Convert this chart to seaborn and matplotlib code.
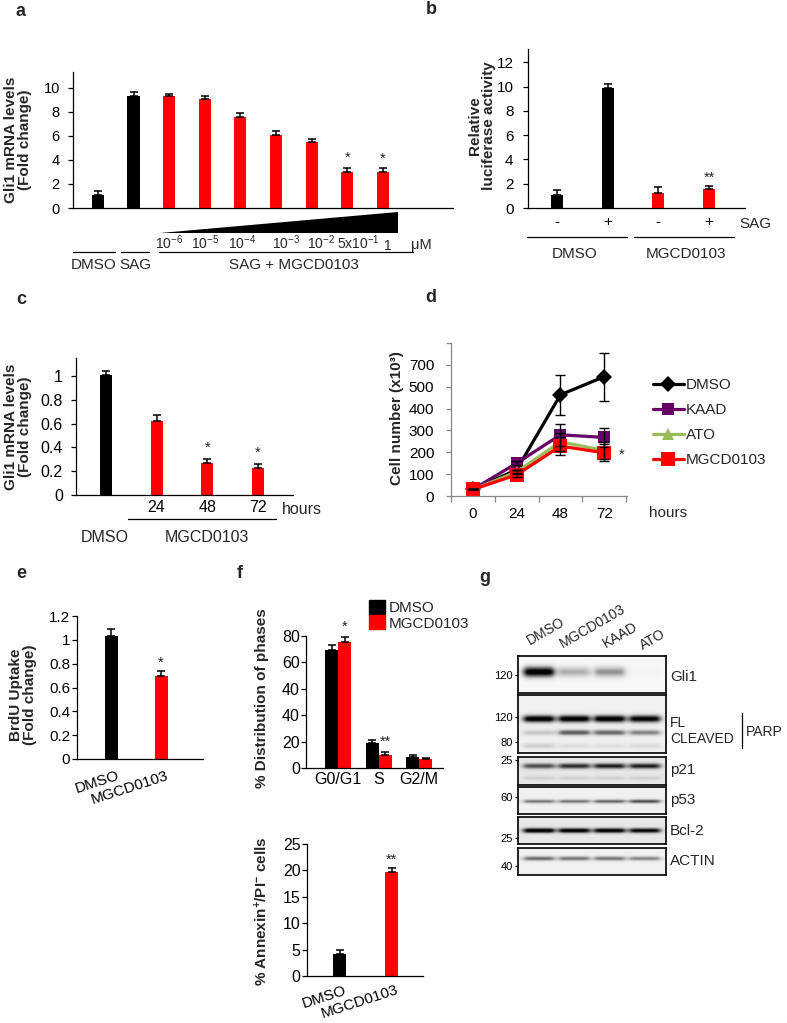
"""
plot.py - MGCD0103 multi-panel figure (bar charts, growth curve, western blot)
"""
import numpy as np, pandas as pd
import matplotlib; matplotlib.use("Agg")
import matplotlib.pyplot as plt
import seaborn as sns
from matplotlib.lines import Line2D
from matplotlib.patches import Patch, Polygon
from matplotlib.transforms import ScaledTranslation

sns.set_style("ticks")
plt.rcParams.update({"font.family": ["Liberation Sans", "DejaVu Sans"],
                     "mathtext.fontset": "custom", "mathtext.rm": "Liberation Sans",
                     "mathtext.it": "Liberation Sans:italic", "mathtext.bf": "Liberation Sans:bold",
                     "axes.linewidth": 0.9, "axes.edgecolor": "black",
                     "xtick.color": "black", "ytick.color": "black"})

W, H = 787, 1023
RED, BLK, GRAY = "#FF0000", "#000000", "#868686"

# ---------------- data ----------------
# a: Gli1 mRNA, SAG + MGCD0103 dose response
a_cats  = ["DMSO", "SAG", "1e-6", "1e-5", "1e-4", "1e-3", "1e-2", "5e-1", "1"]
a_vals  = [1.1, 9.3, 9.3, 9.1, 7.6, 6.1, 5.5, 3.0, 3.0]
a_err   = [0.3, 0.35, 0.2, 0.25, 0.3, 0.3, 0.25, 0.35, 0.3]
a_stars = ["", "", "", "", "", "", "", "*", "*"]
a_doses = ["10$^{-6}$", "10$^{-5}$", "10$^{-4}$", "10$^{-3}$", "10$^{-2}$", "5x10$^{-1}$", "1"]

# b: luciferase
b_cats  = ["DMSO-", "DMSO+", "MGCD-", "MGCD+"]
b_ticks = ["-", "+", "-", "+"]
b_vals  = [1.1, 9.85, 1.2, 1.55]
b_err   = [0.35, 0.35, 0.5, 0.3]
b_stars = ["", "", "", "**"]

# c: Gli1 mRNA time course
c_cats  = ["DMSO", "24", "48", "72"]
c_ticks = ["", "24", "48", "72"]
c_vals  = [1.01, 0.62, 0.27, 0.225]
c_err   = [0.035, 0.05, 0.03, 0.035]
c_stars = ["", "", "*", "*"]

# d: cell number (x10^3)
d_hours = ["0", "24", "48", "72"]
d_names = ["DMSO", "KAAD", "ATO", "MGCD0103"]
d_dmso  = [30, 120, 463, 546]
d_kaad  = [30, 150, 280, 268]
d_ato   = [30, 110, 248, 208]
d_mgcd  = [30, 97, 228, 198]
d_dmso_err = [0, 0, 92, 110]
d_kaad_err = [0, 10, 50, 45]
d_ato_err  = [0, 10, 40, 40]
d_mgcd_err = [0, 10, 40, 40]
d_yticklabels = ["0", "100", "200", "300", "400", "500", "700", ""]

# e: BrdU
e_cats  = ["DMSO", "MGCD0103"]
e_vals  = [1.03, 0.70]
e_err   = [0.06, 0.035]

# f: cell cycle + apoptosis
f_phases = ["G0/G1", "S", "G2/M"]
f_dmso   = [71.5, 15.3, 6.7]
f_mgcd   = [76.4, 8.0, 5.5]
f_dmso_err = [3.0, 1.5, 1.0]
f_mgcd_err = [3.0, 2.0, 0.8]
f_yticklabels = ["0", "20", "40", "40", "60", "80"]
f_ann_vals = [4.2, 19.7]
f_ann_err  = [0.7, 0.7]

# g: western blot band intensities (lanes: DMSO, MGCD0103, KAAD, ATO)
g_lanes   = ["DMSO", "MGCD0103", "KAAD", "ATO"]
g_gli1    = [1.0, 0.35, 0.45, 0.03]
g_parp_fl = [0.95, 0.95, 0.95, 0.92]
g_parp_cl = [0.22, 0.6, 0.55, 0.45]
g_parp_lo = [0.18, 0.1, 0.1, 0.12]
g_p21     = [0.6, 0.7, 0.75, 0.75]
g_p21_lo  = [0.12, 0.12, 0.12, 0.12]
g_p53     = [0.5, 0.5, 0.55, 0.65]
g_bcl2    = [0.95, 0.9, 0.9, 0.85]
g_actin   = [0.55, 0.5, 0.5, 0.45]

fig = plt.figure(figsize=(W / 100, H / 100), dpi=100)

def add_ax(l, t, r, b):
    ax = fig.add_axes([l / W, 1 - b / H, (r - l) / W, (b - t) / H])
    ax.patch.set_alpha(0)
    return ax

def style(ax, ticks, labels=None, size=10, pad=3, color=BLK):
    sns.despine(ax=ax)
    ax.set_yticks(ticks)
    ax.set_yticklabels(labels if labels is not None else [f"{t:g}" for t in ticks])
    ax.tick_params(axis="y", length=3.5, width=0.9, labelsize=size, pad=pad, color=color)
    ax.tick_params(axis="x", length=0, labelsize=size)
    for s in ("left", "bottom"):
        ax.spines[s].set_color(color)
    ax.set_xlabel(""); ax.set_ylabel("")

def bars(ax, cats, vals, errs, colors, width):
    sns.barplot(x=cats, y=vals, hue=cats, palette=colors, legend=False, width=width,
                saturation=1, linewidth=0, errorbar=None, ax=ax)
    n = len(vals)
    ax.errorbar(np.arange(n), vals, yerr=[np.zeros(n), errs], fmt="none",
                ecolor="k", elinewidth=1.1, capsize=3, capthick=1.1)

def stars(ax, xs, vals, errs, marks, pad, size=10.5):
    for x, v, e, m in zip(xs, vals, errs, marks):
        if m:
            ax.text(x, v + e + pad, m, ha="center", va="baseline", fontsize=size, clip_on=False)

def shift_labels(ax, dx):
    for lab in ax.get_xticklabels():
        lab.set_transform(lab.get_transform() + ScaledTranslation(dx / 72, 0, fig.dpi_scale_trans))

# ---- a ----
ax = add_ax(73, 72, 453, 208)
bars(ax, a_cats, a_vals, a_err, [BLK, BLK] + [RED] * 7, 0.34)
ax.set_ylim(0, 11.33); ax.set_xlim(-0.70, 9.97)
style(ax, [0, 2, 4, 6, 8, 10], size=10.5, pad=6)
ax.set_xticks([])
stars(ax, range(9), a_vals, a_err, a_stars, 0.5)

# ---- b ----
ax = add_ax(528, 49, 745, 208)
bars(ax, b_cats, b_vals, b_err, [BLK, BLK, RED, RED], 0.24)
ax.set_ylim(0, 13.1); ax.set_xlim(-0.57, 3.71)
style(ax, [0, 2, 4, 6, 8, 10, 12], size=11, pad=7)
ax.set_xticks(range(4)); ax.set_xticklabels(b_ticks)
ax.tick_params(axis="x", pad=5, labelsize=11)
stars(ax, range(4), b_vals, b_err, b_stars, 0.3)

# ---- c ----
ax = add_ax(76, 358, 293, 495)
bars(ax, c_cats, c_vals, c_err, [BLK, RED, RED, RED], 0.24)
ax.set_ylim(0, 1.15); ax.set_xlim(-0.59, 3.69)
style(ax, [0, 0.2, 0.4, 0.6, 0.8, 1], size=11.5, pad=6)
ax.set_xticks(range(4)); ax.set_xticklabels(c_ticks)
ax.tick_params(axis="x", pad=3.5, labelsize=11.5)
stars(ax, range(4), c_vals, c_err, c_stars, 0.065)

# ---- d ----
ax = add_ax(451, 343, 627, 496)
d_series = [(d_dmso, d_dmso_err, BLK, "D", 8), (d_kaad, d_kaad_err, "#660066", "s", 9),
            (d_ato, d_ato_err, "#9BBB59", "^", 8), (d_mgcd, d_mgcd_err, RED, "s", 10)]
xs = np.arange(len(d_hours))
for vals, err, col, mk, ms in d_series:
    ax.errorbar(xs, vals, yerr=err, fmt="none", ecolor="k", elinewidth=1, capsize=3.5, zorder=3)
    sns.lineplot(x=xs, y=vals, color=col, marker=mk, markersize=ms, markeredgewidth=0,
                 linewidth=2.3, ax=ax, zorder=2)
ax.set_ylim(0, 700); ax.set_xlim(-0.48, 3.52)
style(ax, np.arange(0, 800, 100), d_yticklabels, size=11, pad=8.5, color=GRAY)
ax.tick_params(axis="y", labelcolor=BLK)
ax.set_xticks(xs); ax.set_xticklabels(d_hours)
ax.set_xticks(np.arange(-0.5, 4, 1), minor=True)
ax.tick_params(axis="x", which="major", length=0, pad=8, labelsize=11)
ax.tick_params(axis="x", which="minor", length=4, width=0.9, color=GRAY)
handles = [Line2D([0], [0], color=c, marker=m, markersize=ms, markeredgewidth=0, lw=2.3)
           for _, _, c, m, ms in d_series]
ax.legend(handles, d_names, loc="upper left", bbox_to_anchor=(653 / W, 1 - 378 / H),
          bbox_transform=fig.transFigure, frameon=False, fontsize=11, handlelength=2.0,
          handletextpad=0.15, labelspacing=0.72, borderpad=0, borderaxespad=0)

# ---- e ----
ax = add_ax(77, 616, 203, 759)
bars(ax, e_cats, e_vals, e_err, [BLK, RED], 0.26)
ax.set_ylim(0, 1.2); ax.set_xlim(-0.68, 1.84)
style(ax, [0, 0.2, 0.4, 0.6, 0.8, 1, 1.2], size=11, pad=1.5)
ax.set_xticks(range(2)); ax.set_xticklabels(e_cats, rotation=18, ha="right")
ax.tick_params(axis="x", pad=7, labelsize=11)
shift_labels(ax, 7)
stars(ax, range(2), e_vals, e_err, ["", "*"], 0.035)

# ---- f top ----
ax = add_ax(306, 636, 443, 768)
df_f = pd.DataFrame({"phase": f_phases * 2, "treat": ["DMSO"] * 3 + ["MGCD0103"] * 3,
                     "pct": f_dmso + f_mgcd})
sns.barplot(data=df_f, x="phase", y="pct", hue="treat", palette=[BLK, RED], width=0.64,
            saturation=1, linewidth=0, errorbar=None, legend=False, ax=ax)
px = np.arange(3)
ax.errorbar(px - 0.16, f_dmso, yerr=[np.zeros(3), f_dmso_err], fmt="none", ecolor="k",
            elinewidth=1.1, capsize=3, capthick=1.1)
ax.errorbar(px + 0.16, f_mgcd, yerr=[np.zeros(3), f_mgcd_err], fmt="none", ecolor="k",
            elinewidth=1.1, capsize=3, capthick=1.1)
ax.set_ylim(0, 80); ax.set_xlim(-0.79, 2.59)
style(ax, np.linspace(0, 80, 6), f_yticklabels, size=11.5, pad=1)
ax.tick_params(axis="x", pad=3, labelsize=11.5)
stars(ax, px + 0.16, f_mgcd, f_mgcd_err, ["*", "**", ""], 3.5)
ax.legend([Patch(color=BLK), Patch(color=RED)], ["DMSO", "MGCD0103"], loc="upper left",
          bbox_to_anchor=(369 / W, 1 - 600 / H), bbox_transform=fig.transFigure,
          frameon=False, fontsize=11, handlelength=1.05, handleheight=1.05,
          handletextpad=0.25, labelspacing=0.0, borderpad=0, borderaxespad=0)

# ---- f bottom ----
ax = add_ax(307, 844, 423, 976)
bars(ax, e_cats, f_ann_vals, f_ann_err, [BLK, RED], 0.25)
ax.set_ylim(0, 25); ax.set_xlim(-0.63, 1.6)
style(ax, [0, 5, 10, 15, 20, 25], size=11.5, pad=1)
ax.set_xticks(range(2)); ax.set_xticklabels(e_cats, rotation=18, ha="right")
ax.tick_params(axis="x", pad=5, labelsize=11)
shift_labels(ax, 6)
stars(ax, range(2), f_ann_vals, f_ann_err, ["", "**"], 0.8)

# ---- g western blot ----
lane_x = np.array([0.14, 0.38, 0.62, 0.86])
blots = [  # (box, background, bands[(y, thickness, intensities)], mw ticks)
    ((518, 656, 666, 693), 0.06, [(0.43, 0.15, g_gli1)], [(0.51, "120")]),
    ((518, 695, 666, 753), 0.12, [(0.41, 0.065, g_parp_fl), (0.65, 0.05, g_parp_cl),
                                  (0.88, 0.05, g_parp_lo)], [(0.38, "120"), (0.81, "80")]),
    ((518, 757, 666, 785), 0.17, [(0.32, 0.10, g_p21), (0.75, 0.08, g_p21_lo)], [(0.10, "25")]),
    ((518, 787, 666, 814), 0.12, [(0.55, 0.07, g_p53)], [(0.37, "60")]),
    ((518, 817, 666, 844), 0.17, [(0.52, 0.09, g_bcl2)], [(0.78, "25")]),
    ((518, 848, 666, 875), 0.12, [(0.41, 0.08, g_actin)], [(0.67, "40")]),
]
yy = np.linspace(0, 1, 80)[:, None]
xx = np.linspace(0, 1, 220)[None, :]
for box, bg, bands, mw in blots:
    ax = add_ax(*box)
    img = np.full((80, 220), bg)
    for yc, th, ints in bands:
        vprof = np.exp(-((yy - yc) / th) ** 2)
        for cx, v in zip(lane_x, ints):
            img = img + v * vprof / (1 + ((xx - cx) / 0.105) ** 8)
    ax.imshow(np.clip(img, 0, 1), cmap="Greys", vmin=0, vmax=1, extent=(0, 1, 1, 0),
              aspect="auto", interpolation="bilinear")
    ax.set_xticks([])
    ax.set_yticks([m[0] for m in mw]); ax.set_yticklabels([m[1] for m in mw])
    ax.tick_params(axis="y", length=2.5, width=0.8, labelsize=8, pad=1)
    for s in ax.spines.values():
        s.set_linewidth(1.3); s.set_color("#111111")

# ---------------- overlay annotations (pixel coords) ----------------
ov = fig.add_axes([0, 0, 1, 1]); ov.set_xlim(0, W); ov.set_ylim(H, 0); ov.axis("off")

def T(x, y, s, **kw):
    kw.setdefault("ha", "center"); kw.setdefault("va", "center"); kw.setdefault("fontsize", 11)
    ov.text(x, y, s, **kw)

def hline(x0, x1, y):
    ov.plot([x0, x1], [y, y], color="k", lw=0.9)

def ylab(x, y, s):
    T(x, y, s, rotation=90, fontweight="bold", fontsize=11, linespacing=1.0)

for (x, y), s in zip([(21, 11), (431, 10), (21, 299), (431, 298), (21, 574), (240, 573), (485, 577)],
                     "abcdefg"):
    T(x, y, s, fontweight="bold", fontsize=13)

ylab(18, 140, "Gli1 mRNA levels\n(Fold change)")
ylab(482, 126, "Relative\nluciferase activity")
ylab(18, 427, "Gli1 mRNA levels\n(Fold change)")
ylab(397, 418, "Cell number (x10³)")
ylab(23, 695, "BrdU Uptake\n(Fold change)")
ylab(262, 698, "% Distribution of phases")
ylab(262, 911, r"% Annexin$^{\mathbf{+}}$/PI$^{\mathbf{-}}$ cells")

# a annotations
ov.add_patch(Polygon([(160, 233), (398, 233), (398, 212)], closed=True, color="k", lw=0))
for x, s in zip([169, 205, 242, 286, 321, 358, 388], a_doses):
    T(x, 249.5, s, va="baseline", fontsize=10)
T(421, 249.5, "μM", va="baseline", fontsize=10.5)
hline(73, 115, 252); hline(121, 149, 252); hline(159, 413, 252)
T(94, 265, "DMSO"); T(135, 265, "SAG"); T(294, 265, "SAG + MGCD0103")

# b annotations
T(755, 224, "SAG")
hline(527, 627, 237); hline(634, 734, 237)
T(575, 254, "DMSO"); T(686, 254, "MGCD0103")

# c annotations
T(302, 510, "hours", fontsize=11.5)
hline(128, 276, 519)
T(105, 538, "DMSO", fontsize=11.5); T(207, 538, "MGCD0103", fontsize=11.5)

# d annotations
T(668, 513, "hours")
T(622, 459, "*", va="baseline", fontsize=10.5)

# g annotations
for (x, y), s in zip([(531, 648), (564, 651), (607, 651), (644, 653)], g_lanes):
    T(x, y, s, ha="left", va="bottom", rotation=30, rotation_mode="anchor", fontsize=10)
for y, s in zip([677, 770, 800, 831, 861], ["Gli1", "p21", "p53", "Bcl-2", "ACTIN"]):
    T(670, y, s, ha="left", fontsize=11)
T(670, 723, "FL", ha="left", fontsize=10)
T(670, 739, "CLEAVED", ha="left", fontsize=10)
ov.plot([742, 742], [713, 748], color="k", lw=0.9)
T(746, 732, "PARP", ha="left", fontsize=10)

fig.savefig("out.png", dpi=100)
